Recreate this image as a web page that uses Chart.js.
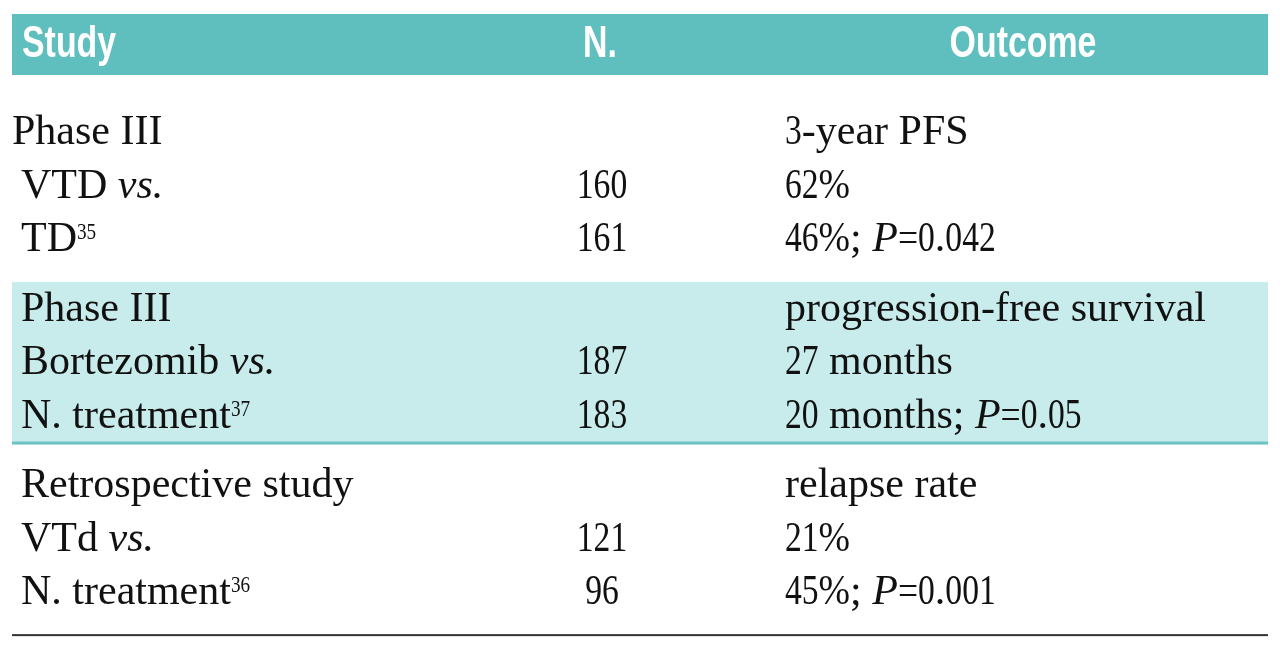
<!DOCTYPE html>
<html lang="en">

<head>
  <title>Study outcomes</title>
  <meta charset="UTF-8">
  <meta name="viewport" content="width=device-width, initial-scale=1">
  <script src="https://cdn.jsdelivr.net/npm/chart.js@4.4.1/dist/chart.umd.min.js"></script>
  <style>
    html, body { margin: 0; padding: 0; background: #fff; }
    #wrap { width: 1280px; height: 652px; }
  </style>
</head>

<body>
  <div id="wrap"><canvas id="myChart"></canvas></div>
  <script>
    // table content
    const headers = ["Study", "N.", "Outcome"];
    const groups = ["Phase III", "Phase III", "Retrospective study"];
    const groupOutcomes = ["3-year PFS", "progression-free survival", "relapse rate"];
    const arms = ["VTD _vs._", "TD^35", "Bortezomib _vs._", "N. treatment^37", "VTd _vs._", "N. treatment^36"];
    const armN = [160, 161, 187, 183, 121, 96];
    const armOutcomes = ["62%", "46%; _P_=0.042", "27 months", "20 months; _P_=0.05", "21%", "45%; _P_=0.001"];

    // layout (row units on y, pixels on x)
    const ROW_PX = 53.5;
    const FIRST_ROW_PX = 144;
    const GROUP_STEP = 3.3;
    const HEADER_ROW = -1.63;
    const col = { study: 21, n: 602, outcome: 785, headStudy: 22, headN: 600, headOutcome: 1023, left: 12, right: 1268 };
    const groupLabelShift = [-9, 0, 0];

    const groupRow = g => g * GROUP_STEP;
    const armRow = i => Math.floor(i / 2) * GROUP_STEP + 1 + (i % 2);

    const pts = (list, xf, yf) => list.map((t, i) => ({ x: xf(i), y: yf(i), text: String(t) }));

    const datasets = [
      { kind: "head", align: ["left", "center", "center"],
        data: pts(headers, i => [col.headStudy, col.headN, col.headOutcome][i], () => HEADER_ROW) },
      { kind: "body", align: "left", data: pts(groups, i => col.study + groupLabelShift[i], groupRow) },
      { kind: "body", align: "left", data: pts(groupOutcomes, () => col.outcome, groupRow) },
      { kind: "body", align: "left", data: pts(arms, () => col.study, armRow) },
      { kind: "body", align: "center", data: pts(armN, () => col.n, armRow) },
      { kind: "body", align: "left", data: pts(armOutcomes, () => col.outcome, armRow) }
    ].map(d => Object.assign(d, { pointRadius: 0, clip: false }));

    const SERIF = "'Liberation Serif', 'DejaVu Serif', serif";
    // the original face has narrow figures
    const squeeze = ch => /[0-9]/.test(ch) ? 0.8 : ch === "%" ? 0.9 : ch === "=" ? 0.85 : 1;

    function drawRich(ctx, str, x, y, align) {
      const parts = str.split(/(_[^_]+_|\^\d+)/).filter(s => s.length);
      const segs = [];
      parts.forEach(p => {
        let font = "42px " + SERIF, dy = 0, t = p;
        if (p[0] === "_") { t = p.slice(1, -1); font = "italic 42px " + SERIF; }
        if (p[0] === "^") { t = p.slice(1); font = "24px " + SERIF; dy = -12; }
        t.match(/[0-9]+|%|=|[^0-9%=]+/g).forEach(run => segs.push({ t: run, font, dy, sx: squeeze(run[0]) }));
      });
      let total = 0;
      segs.forEach(s => { ctx.font = s.font; s.w = ctx.measureText(s.t).width * s.sx; total += s.w; });
      let cx = align === "center" ? x - total / 2 : x;
      ctx.textAlign = "left";
      segs.forEach(s => {
        ctx.font = s.font;
        ctx.save();
        ctx.translate(cx, y + s.dy);
        ctx.scale(s.sx, 1);
        ctx.fillText(s.t, 0, 0);
        ctx.restore();
        cx += s.w;
      });
    }

    const tablePlugin = {
      id: "tablePlugin",
      beforeDatasetsDraw(chart) {
        const { ctx, scales: { x, y } } = chart;
        const L = x.getPixelForValue(col.left), R = x.getPixelForValue(col.right);
        ctx.save();
        // header band
        const hTop = y.getPixelForValue(-2.43), hBot = y.getPixelForValue(-1.29);
        ctx.fillStyle = "#5fbfbe";
        ctx.fillRect(L, hTop, R - L, hBot - hTop);
        // shaded middle group
        const bTop = y.getPixelForValue(groupRow(1) - 0.72), bBot = y.getPixelForValue(groupRow(1) + 2.29);
        ctx.fillStyle = "#c8ecec";
        ctx.fillRect(L, bTop, R - L, bBot - bTop);
        ctx.fillStyle = "#6cc2c2";
        ctx.fillRect(L, bBot - 1.5, R - L, 3);
        // bottom rule
        const bl = y.getPixelForValue(groupRow(2) + 2.58);
        ctx.fillStyle = "#333";
        ctx.fillRect(L, bl - 1, R - L, 2);
        ctx.restore();
      },
      afterDatasetsDraw(chart) {
        const { ctx } = chart;
        ctx.save();
        ctx.textBaseline = "alphabetic";
        chart.data.datasets.forEach((ds, di) => {
          const meta = chart.getDatasetMeta(di);
          meta.data.forEach((el, i) => {
            const txt = ds.data[i].text;
            if (ds.kind === "head") {
              ctx.save();
              ctx.fillStyle = "#ffffff";
              ctx.font = "bold 44px 'Liberation Sans', Arial, sans-serif";
              ctx.translate(el.x, el.y);
              ctx.scale(0.77, 1);
              ctx.textAlign = ds.align[i];
              ctx.fillText(txt, 0, 0);
              ctx.restore();
            } else {
              ctx.fillStyle = "#111111";
              drawRich(ctx, txt, el.x, el.y, ds.align);
            }
          });
        });
        ctx.restore();
      }
    };

    new Chart("myChart", {
      type: "scatter",
      data: { datasets: datasets },
      options: {
        responsive: true,
        maintainAspectRatio: false,
        animation: false,
        layout: { padding: 0 },
        plugins: { legend: { display: false }, tooltip: { enabled: false } },
        events: [],
        scales: {
          x: { type: "linear", display: false, min: 0, max: 1280 },
          y: { type: "linear", display: false, reverse: true,
               min: -FIRST_ROW_PX / ROW_PX, max: (652 - FIRST_ROW_PX) / ROW_PX }
        }
      },
      plugins: [tablePlugin]
    });
  </script>
</body>

</html>
